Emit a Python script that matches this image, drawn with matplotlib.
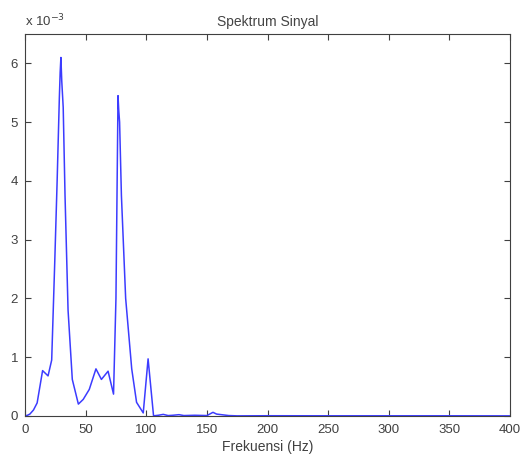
import matplotlib
matplotlib.use('Agg')
import matplotlib.pyplot as plt

# spectrum, amplitude in units of 1e-3
freq = [0, 2, 4, 7, 10, 14.5, 19, 22, 24.5, 26.5, 28.3, 29.0, 29.6, 30.3,
        31.5, 33, 35.5, 39, 44, 48, 53, 58.5, 63, 68.5, 73, 75, 76.7, 77.3,
        78, 79.5, 83, 88, 92, 97.5, 101.5, 106, 110, 114, 118, 122, 127,
        131, 140, 150, 155, 158, 162, 168, 175, 200, 250, 300, 350, 400]
amp = [0, 0.01, 0.03, 0.1, 0.22, 0.77, 0.68, 0.95, 2.6, 4.0, 5.4, 5.85,
       6.1, 5.7, 5.25, 3.75, 1.8, 0.62, 0.2, 0.28, 0.45, 0.8, 0.62, 0.76,
       0.37, 2.0, 5.45, 5.2, 5.0, 3.75, 2.0, 0.8, 0.23, 0.05, 0.97, 0.0,
       0.01, 0.025, 0.005, 0.01, 0.02, 0.005, 0.01, 0.005, 0.06, 0.03,
       0.02, 0.005, 0.0, 0.002, 0.001, 0.001, 0.001, 0.0]

xticks = [0, 50, 100, 150, 200, 250, 300, 350, 400]
yticks = [0, 1, 2, 3, 4, 5, 6]

plt.rcParams['font.family'] = ['Liberation Sans', 'DejaVu Sans']

fig = plt.figure(figsize=(5.21, 4.59), dpi=100)
ax = fig.add_axes([0.048, 0.094, 0.931, 0.832])
ax.plot(freq, amp, color='#3c3cff', lw=1.1)

ax.set_xlim(0, 400)
ax.set_ylim(0, 6.5)
ax.set_xticks(xticks)
ax.set_yticks(yticks)
ax.tick_params(direction='in', top=True, right=True, length=4,
               labelsize=9.5, colors='#404040')
ax.tick_params(axis='x', pad=6)
ax.tick_params(axis='y', pad=5)
for s in ax.spines.values():
    s.set_color('#404040')
    s.set_linewidth(0.8)

ax.set_title('Spektrum Sinyal', fontsize=10, color='#444444', pad=6)
ax.set_xlabel('Frekuensi (Hz)', fontsize=10, color='#404040', labelpad=3)
ax.text(0.0, 1.012, r'x 10$^{-3}$', transform=ax.transAxes,
        fontsize=9.5, color='#404040', va='bottom', ha='left')

fig.savefig('out.png', dpi=100)
